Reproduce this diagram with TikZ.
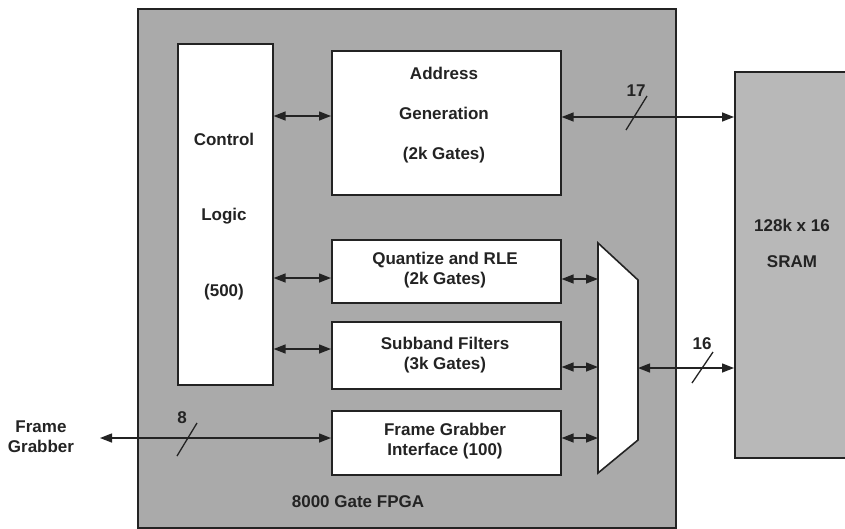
\documentclass[tikz,border=0pt]{standalone}
\usepackage{fontspec}
\setmainfont{Liberation Sans}
\usetikzlibrary{arrows.meta}
\definecolor{fpgagray}{RGB}{170,170,170}
\definecolor{sramgray}{RGB}{184,184,184}
\definecolor{ink}{RGB}{35,35,35}
\tikzset{
  blk/.style={draw=ink, line width=1.6pt, fill=white, inner sep=0pt, anchor=north west},
  txt/.style={font=\fontsize{17}{20}\selectfont\bfseries, text=ink, align=center, inner sep=0pt},
  tip/.tip={Triangle[length=12pt,width=9pt]},
  bus/.style={draw=ink, line width=1.4pt, tip-tip},
  slash/.style={draw=ink, line width=1.3pt},
}
\begin{document}
\begin{tikzpicture}[x=1pt,y=-1pt]
\useasboundingbox (0,0) rectangle (845,528);
\fill[white] (0,0) rectangle (845,528);
% FPGA
\node[blk, fill=fpgagray, minimum width=538pt, minimum height=519pt] (fpga) at (137,8) {};
% SRAM
\node[blk, fill=sramgray, minimum width=130pt, minimum height=386pt] (sram) at (734,71) {};
% blocks
\node[blk, minimum width=95pt, minimum height=341pt] (ctrl) at (177,43) {};
\node[blk, minimum width=229pt, minimum height=144pt] (addr) at (331,50) {};
\node[blk, minimum width=229pt, minimum height=63pt] (quant) at (331,239) {};
\node[blk, minimum width=229pt, minimum height=67pt] (sub) at (331,321) {};
\node[blk, minimum width=229pt, minimum height=64pt] (fgi) at (331,410) {};
% mux
\coordinate (mtl) at (598,243);
\coordinate (mtr) at (638,280);
\coordinate (mbr) at (638,440);
\coordinate (mbl) at (598,473);
\draw[ink, line width=1.6pt, fill=white, line join=miter] (mtl) -- (mtr) -- (mbr) -- (mbl) -- cycle;
% texts
\node[txt] (t1) at (224,139) {Control};
\node[txt] (t2) at (224,216) {Logic};
\node[txt] (t3) at (224,292) {(500)};
\node[txt] (t4) at (444,73) {Address};
\node[txt] (t5) at (444,113) {Generation};
\node[txt] (t6) at (444,155) {(2k Gates)};
\node[txt] (t7) at (445,270) {Quantize and RLE\\(2k Gates)};
\node[txt] (t8) at (445,355) {Subband Filters\\(3k Gates)};
\node[txt] (t9) at (445,441) {Frame Grabber\\Interface (100)};
\node[txt] (t10) at (792,225) {128k x 16};
\node[txt] (t11) at (792,262) {SRAM};
\node[txt] (t12) at (41,437) {Frame\\Grabber};
\node[txt] (t13) at (358,502) {8000 Gate FPGA};
% connectors
\coordinate (fgend) at (100,438);
\draw[bus] (ctrl.east |- 0,116) -- (addr.west |- 0,116);
\draw[bus] (ctrl.east |- 0,278) -- (quant.west |- 0,278);
\draw[bus] (ctrl.east |- 0,349) -- (sub.west |- 0,349);
\draw[bus] (addr.east |- 0,117) -- (sram.west |- 0,117);
\draw[bus] (quant.east |- 0,279) -- (mtl |- 0,279);
\draw[bus] (sub.east |- 0,367) -- (mtl |- 0,367);
\draw[bus] (fgi.east |- 0,438) -- (mtl |- 0,438);
\draw[bus] (mtr |- 0,368) -- (sram.west |- 0,368);
\draw[bus] (fgend) -- (fgi.west |- fgend);
% bus widths
\draw[slash] (626,130) -- (647,96);
\node[txt] (n17) at (636,91) {17};
\draw[slash] (692,383) -- (713,352);
\node[txt] (n16) at (702,344) {16};
\draw[slash] (177,456) -- (197,423);
\node[txt] (n8) at (182,418) {8};
\end{tikzpicture}
\end{document}
